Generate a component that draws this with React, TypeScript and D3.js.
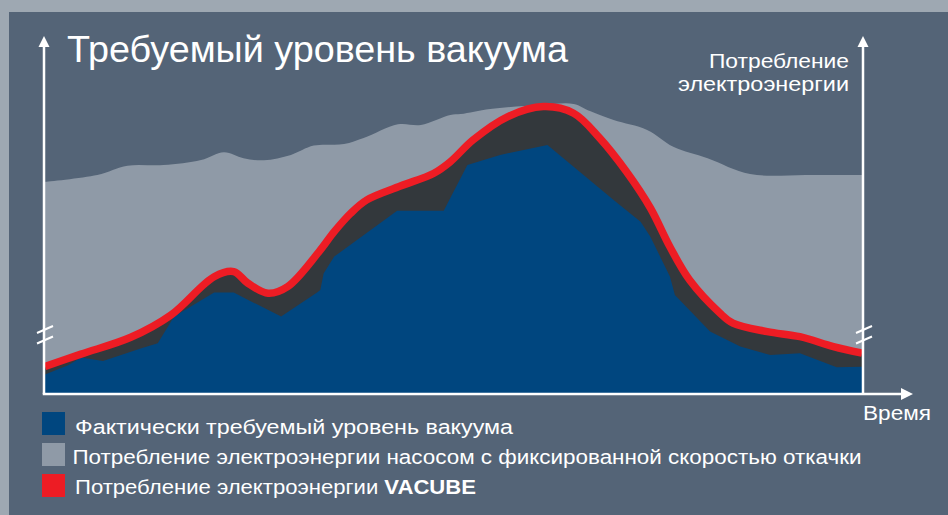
import React from 'react';
import * as d3 from 'd3';

const W = 948;
const H = 515;

// Time (0..100) and level (0..100)
const fixedPumpTime = [0, 6.4, 10.1, 14.5, 19.1, 21.9, 24.3, 26.8, 30.1, 32.9, 36.6, 39, 43.2, 46, 49.6, 50.9, 54.5, 60.6, 64.7, 66.7, 69.6, 73.7, 76.9, 81.1, 86.3, 93.3, 100];
const fixedPumpValue = [70.7, 73, 76.1, 76.3, 78, 80.6, 78.6, 77.9, 79.7, 82.8, 83.3, 85.3, 89.9, 89.7, 93, 93.3, 95, 96.3, 96.7, 94.3, 91.3, 88, 82.4, 78.6, 73.3, 73, 73];

const vacubeTime = [0, 4.4, 10.5, 15.4, 20.7, 23.1, 24.8, 27.3, 29.7, 33.5, 35.4, 37.4, 39.4, 43.5, 47.6, 49.6, 52.4, 56.6, 61.0, 64.7, 67.9, 71.2, 74.1, 76.5, 78.9, 82.6, 84.2, 88.4, 92.4, 96.5, 100];
const vacubeValue = [9.2, 13.3, 18.9, 26.3, 39.1, 40.8, 37.0, 33.6, 35.8, 47.3, 54.1, 60.2, 64.7, 69.3, 73.6, 77.4, 84.7, 92.4, 95.8, 93.6, 85.3, 74.0, 62.0, 49.0, 38.0, 27.0, 23.6, 20.8, 19.1, 15.8, 13.6];

const vacuumTime = [0, 2.9, 4.4, 7.1, 11.7, 13.8, 15.8, 20.7, 23.1, 28.9, 33.3, 33.7, 34.1, 35.4, 43.1, 48.8, 51.7, 55.7, 61.5, 69.6, 72.9, 74.1, 76.5, 77.1, 81.4, 85.1, 88.8, 92.4, 96.9, 100];
const vacuumValue = [6.5, 9.7, 12.2, 11.0, 15.2, 16.9, 25.8, 33.8, 33.8, 25.8, 33.8, 34.7, 40.2, 45.8, 61.1, 61.1, 76.3, 79.7, 83.0, 64.7, 57.4, 52.4, 39.1, 33.0, 20.8, 15.8, 13.0, 13.6, 8.9, 9.1];

const titleText = 'Требуемый уровень вакуума';
const rightAxisLabel = ['Потребление', 'электроэнергии'];
const xAxisLabel = 'Время';
const legendLabels = [
  'Фактически требуемый уровень вакуума',
  'Потребление электроэнергии насосом с фиксированной скоростью откачки',
  'Потребление электроэнергии ',
];
const legendBold = 'VACUBE';

const C = {
  frame: '#9ea8b2',
  bg: '#546477',
  gray: '#8f9aa7',
  dark: '#33383c',
  blue: '#00467f',
  red: '#ed1c24',
  white: '#ffffff',
};

const FONT = '"Liberation Sans", Arial, Helvetica, sans-serif';

export default function App() {
  const x = d3.scaleLinear().domain([0, 100]).range([45, 862]);
  const y = d3.scaleLinear().domain([0, 100]).range([394, 94]);

  const zip = (t: number[], v: number[]) => t.map((tt, i) => [tt, v[i]] as [number, number]);
  const fixedPts = zip(fixedPumpTime, fixedPumpValue);
  const vacubePts = zip(vacubeTime, vacubeValue);
  const vacuumPts = zip(vacuumTime, vacuumValue);

  const areaGen = (curve: d3.CurveFactory) =>
    d3
      .area<[number, number]>()
      .x((d) => x(d[0]))
      .y0(y(0))
      .y1((d) => y(d[1]))
      .curve(curve);

  const smooth = d3.curveCatmullRom.alpha(0.5);
  const grayArea = areaGen(smooth)(fixedPts) || '';
  const darkArea = areaGen(smooth)(vacubePts) || '';
  const blueArea = areaGen(d3.curveLinear)(vacuumPts) || '';
  const redLine =
    d3
      .line<[number, number]>()
      .x((d) => x(d[0]))
      .y((d) => y(d[1]))
      .curve(smooth)(vacubePts) || '';

  const axY = y(0);
  const axL = x(0) - 1;
  const axR = x(100) + 1;
  const axTop = 36;
  const axRightEnd = 913;

  const brk = (cx: number) => (
    <g stroke={C.white} strokeWidth={2}>
      <line x1={cx - 7} y1={333} x2={cx + 9} y2={326} />
      <line x1={cx - 7} y1={343.5} x2={cx + 9} y2={336.5} />
    </g>
  );

  const legendY = [412, 443, 474];
  const legendColors = [C.blue, C.gray, C.red];

  return (
    <svg
      width={W}
      height={H}
      style={{ position: 'absolute', left: 0, top: 0, display: 'block' }}
      fontFamily={FONT}
    >
      <defs>
        <clipPath id="plotClip">
          <rect x={x(0)} y={0} width={x(100) - x(0)} height={y(0)} />
        </clipPath>
      </defs>
      <rect x={0} y={0} width={W} height={H} fill={C.frame} />
      <rect x={9} y={12} width={W - 9} height={H - 12} fill={C.bg} />

      <g clipPath="url(#plotClip)">
        <path d={grayArea} fill={C.gray} />
        <path d={darkArea} fill={C.dark} />
        <path d={blueArea} fill={C.blue} />
        <path d={redLine} fill="none" stroke={C.red} strokeWidth={7.5} />
      </g>

      {/* axes */}
      <g stroke={C.white} strokeWidth={2.5} fill="none">
        <line x1={axL} y1={axY} x2={axL} y2={axTop + 8} />
        <line x1={axR} y1={axY} x2={axR} y2={axTop + 8} />
        <line x1={axL - 1.25} y1={axY} x2={axRightEnd - 8} y2={axY} />
      </g>
      <g fill={C.white}>
        <polygon points={`${axL},${axTop} ${axL - 5.5},${axTop + 11} ${axL + 5.5},${axTop + 11}`} />
        <polygon points={`${axR},${axTop} ${axR - 5.5},${axTop + 11} ${axR + 5.5},${axTop + 11}`} />
        <polygon points={`${axRightEnd},${axY} ${axRightEnd - 12},${axY - 6} ${axRightEnd - 12},${axY + 6}`} />
      </g>
      {brk(axL)}
      {brk(axR)}

      {/* texts */}
      <text x={67} y={62} fill={C.white} fontSize={37} textLength={501} lengthAdjust="spacingAndGlyphs">
        {titleText}
      </text>
      <text x={709} y={68} fill={C.white} fontSize={21} textLength={140} lengthAdjust="spacingAndGlyphs">
        {rightAxisLabel[0]}
      </text>
      <text x={678} y={91} fill={C.white} fontSize={21} textLength={171} lengthAdjust="spacingAndGlyphs">
        {rightAxisLabel[1]}
      </text>
      <text x={863} y={420} fill={C.white} fontSize={20} textLength={68} lengthAdjust="spacingAndGlyphs">
        {xAxisLabel}
      </text>

      {/* legend */}
      {legendY.map((ly, i) => (
        <rect key={i} x={42} y={ly} width={23} height={23} fill={legendColors[i]} />
      ))}
      <text x={75} y={433.5} fill={C.white} fontSize={20} textLength={438} lengthAdjust="spacingAndGlyphs">
        {legendLabels[0]}
      </text>
      <text x={72.5} y={463.5} fill={C.white} fontSize={20} textLength={789} lengthAdjust="spacingAndGlyphs">
        {legendLabels[1]}
      </text>
      <text x={75} y={493.5} fill={C.white} fontSize={20} textLength={401} lengthAdjust="spacingAndGlyphs">
        {legendLabels[2]}
        <tspan fontWeight="bold">{legendBold}</tspan>
      </text>
    </svg>
  );
}
